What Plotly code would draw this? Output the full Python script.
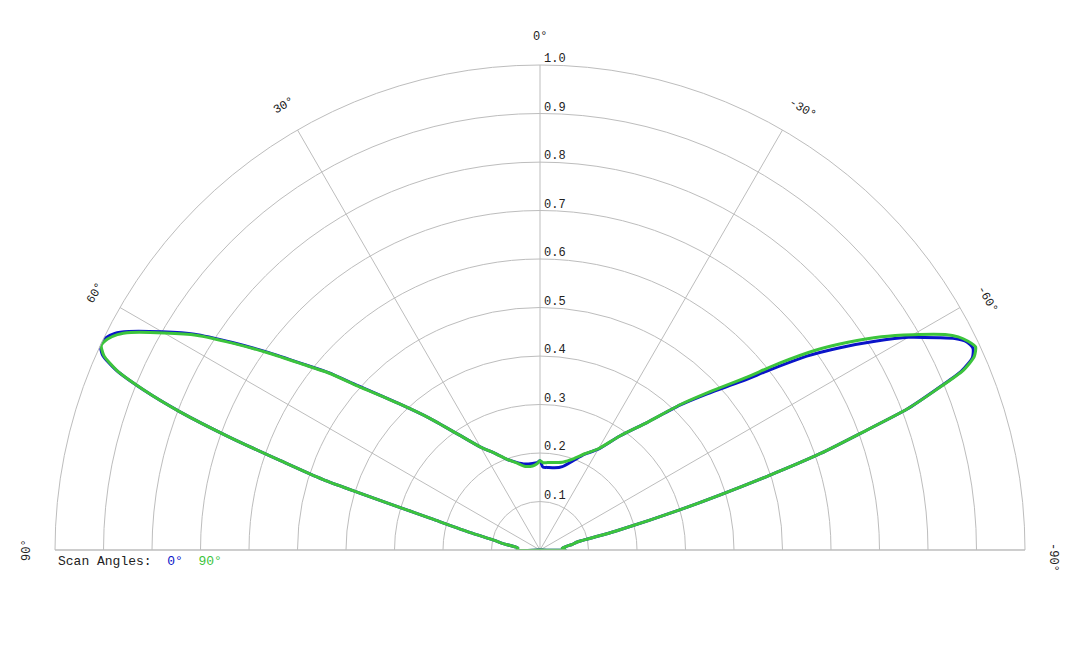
import math
import plotly.graph_objects as go

# beam pattern, theta in degrees (0 = top, positive to the left)
theta = [-90, -90, -85, -80, -78, -76, -74, -72, -71, -70, -69, -68, -67, -66, -65,
         -64, -63, -62, -60, -58, -56, -54, -52, -50, -47, -44, -40, -35, -30, -25,
         -20, -15, -10, -5, -2, 0, 2, 5, 10, 15, 20, 25, 30, 35, 40, 44, 48, 50,
         52, 54, 56, 58, 60, 62, 63, 64, 65, 66, 67, 68, 69, 70, 71, 72, 74, 76,
         78, 80, 85, 90, 90]

r_scan0 = [0.0, 0.052, 0.046, 0.068, 0.077, 0.160, 0.298, 0.495, 0.613, 0.703, 0.811,
           0.878, 0.944, 0.976, 0.985, 0.979, 0.960, 0.932, 0.877, 0.811, 0.746, 0.680,
           0.605, 0.540, 0.473, 0.415, 0.343, 0.287, 0.240, 0.218, 0.195, 0.178, 0.172,
           0.171, 0.171, 0.184, 0.180, 0.179, 0.180, 0.187, 0.199, 0.220, 0.245, 0.289,
           0.355, 0.420, 0.507, 0.569, 0.625, 0.693, 0.765, 0.840, 0.900, 0.960, 0.984,
           0.997, 1.000, 0.987, 0.950, 0.883, 0.795, 0.684, 0.566, 0.470, 0.227, 0.148,
           0.096, 0.079, 0.046, 0.047, 0.0]

r_scan90 = [0.0, 0.052, 0.046, 0.068, 0.077, 0.160, 0.298, 0.495, 0.613, 0.703, 0.811,
            0.880, 0.948, 0.980, 0.991, 0.982, 0.968, 0.946, 0.888, 0.830, 0.766, 0.700,
            0.625, 0.552, 0.478, 0.417, 0.343, 0.287, 0.241, 0.219, 0.200, 0.188, 0.183,
            0.181, 0.180, 0.184, 0.178, 0.174, 0.175, 0.186, 0.199, 0.220, 0.245, 0.289,
            0.355, 0.420, 0.505, 0.567, 0.623, 0.690, 0.762, 0.836, 0.895, 0.955, 0.978,
            0.992, 0.998, 0.984, 0.948, 0.881, 0.795, 0.684, 0.566, 0.470, 0.227, 0.148,
            0.096, 0.079, 0.046, 0.047, 0.0]

scan_angles = ["0°", "90°"]
colors = ["#0a14c8", "#3cc43c"]

radial_ticks = [0.1, 0.2, 0.3, 0.4, 0.5, 0.6, 0.7, 0.8, 0.9, 1.0]
angle_ticks = [90, 60, 30, 0, -30, -60, -90]

# page body has an 8px margin, so the figure is 16px smaller than the window
W, H = 1064, 632
# polar area in figure pixels: centre (532, 542), radius 485
cx, cy, R = 532.0, 542.0, 485.0
dom_x = [(cx - R) / W, (cx + R) / W]
dom_y = [1 - cy / H, 1 - (cy - R) / H]

font_mono = "Courier New, Liberation Mono, monospace"

fig = go.Figure()
for r_vals, name, col in zip([r_scan0, r_scan90], scan_angles, colors):
    fig.add_trace(go.Scatterpolar(r=r_vals, theta=theta, mode="lines", name=name,
                                  line=dict(color=col, width=3, shape="spline", smoothing=0.6),
                                  showlegend=False))

annotations = []
# radial tick labels along the 0 deg line
for v in radial_ticks:
    annotations.append(dict(x=cx / W, y=1 - (cy - v * R) / H, xref="paper", yref="paper",
                            text="%.1f" % v, showarrow=False, xanchor="left", yanchor="bottom",
                            xshift=2, yshift=-3,
                            font=dict(family=font_mono, size=12, color="#222")))
# angle labels, rotated along the arc
r_lab = 513.0
for a in angle_ticks:
    rad = math.radians(a)
    px = cx - r_lab * math.sin(rad)
    py = cy - r_lab * math.cos(rad)
    if a < 0:
        # nudge along reading direction for the minus sign
        px += 7 * math.cos(math.radians(-a))
        py += 7 * math.sin(math.radians(-a))
    annotations.append(dict(x=px / W, y=1 - py / H, xref="paper", yref="paper",
                            text="%d°" % a, showarrow=False, textangle=-a,
                            xanchor="center", yanchor="middle",
                            font=dict(family=font_mono, size=12, color="#222")))

legend_txt = "Scan Angles:&nbsp;" + "".join(
    "&nbsp;<span style='color:%s'>%s</span>&nbsp;" % (c, s) for s, c in zip(scan_angles, colors))
annotations.append(dict(x=48 / W, y=1 - 553 / H, xref="paper", yref="paper", text=legend_txt,
                        showarrow=False, xanchor="left", yanchor="middle",
                        font=dict(family=font_mono, size=13, color="#222")))

fig.update_layout(
    width=W, height=H,
    margin=dict(l=0, r=0, t=0, b=0),
    paper_bgcolor="white",
    showlegend=False,
    annotations=annotations,
    polar=dict(
        domain=dict(x=dom_x, y=dom_y),
        sector=[0, 180],
        bgcolor="white",
        radialaxis=dict(range=[0, 1], tickvals=radial_ticks, showticklabels=False, ticks="",
                        showline=False, gridcolor="#bdbdbd", gridwidth=1),
        angularaxis=dict(rotation=90, direction="counterclockwise", tickvals=angle_ticks,
                         showticklabels=False, ticks="", showline=True, linecolor="#bdbdbd",
                         linewidth=1, gridcolor="#bdbdbd", gridwidth=1),
    ),
)

fig.write_html("out.html")
